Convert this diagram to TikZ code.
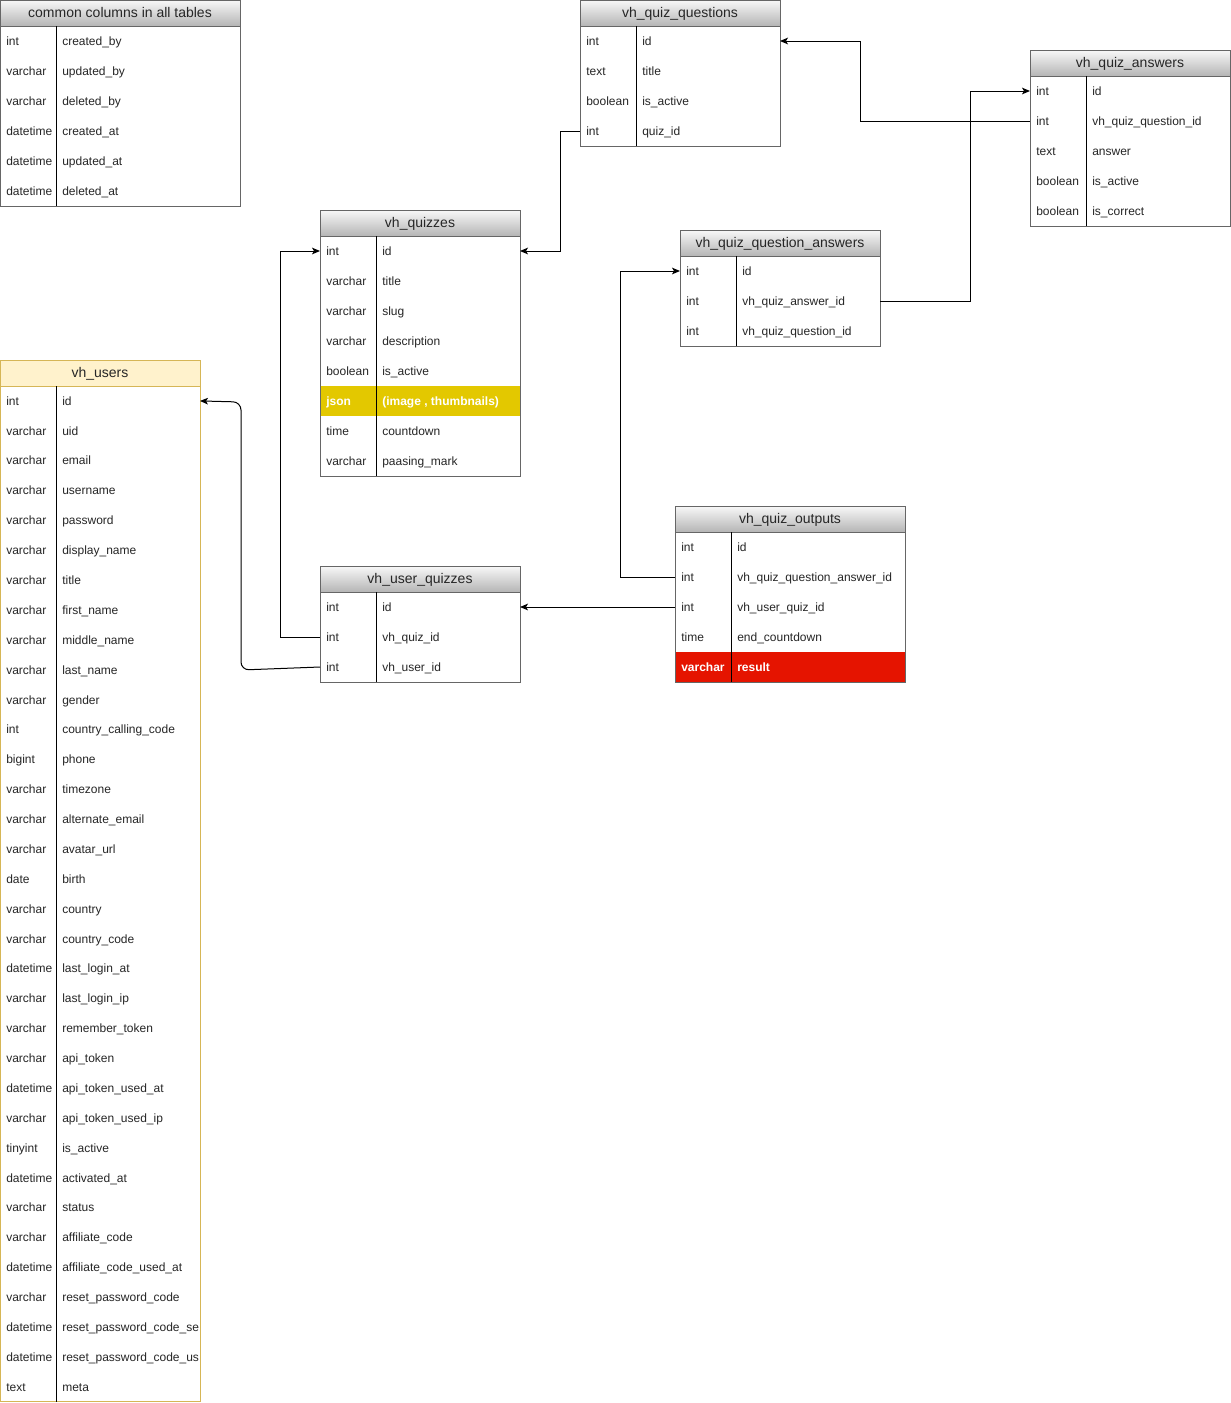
\documentclass[tikz,border=0pt]{standalone}
\usepackage{fontspec}
\setmainfont{Liberation Sans}
\usetikzlibrary{arrows.meta}

% one drawing unit = one screen pixel
\newcommand\pxu{0.75pt}

\definecolor{hdrtop}{HTML}{F8F8F8}
\definecolor{hdrbot}{HTML}{B5B5B5}
\definecolor{edge}{HTML}{666666}
\definecolor{usrfill}{HTML}{FFF2CC}
\definecolor{usredge}{HTML}{D6B656}
\definecolor{jsonfill}{HTML}{E3C800}
\definecolor{resfill}{HTML}{E51400}

\tikzset{
  hdr/.style={draw=edge, line width=\pxu, top color=hdrtop, bottom color=hdrbot,
    font=\fontsize{10.5}{12}\selectfont, text=black!85, inner sep=0pt, outer sep=0pt,
    text height=8.6pt, text depth=1.4pt, anchor=north west},
  rowbox/.style={inner sep=0pt, outer sep=0pt, anchor=north west},
  celltxt/.style={font=\fontsize{9}{11}\selectfont, text=black!85, inner sep=0pt, anchor=base west},
  frame/.style={draw=edge, line width=\pxu},
  divider/.style={draw=black, line width=\pxu},
  rowstyle/.style={hl #1/.try},
  txtstyle/.style={tx #1/.try},
  link/.style={draw=black, line width=\pxu, -{Stealth[length=6pt,width=5pt,inset=1.5pt]}},
  % table specific looks
  hdr vu/.style={top color=usrfill, bottom color=usrfill, draw=usredge},
  tbl vu/.style={draw=usredge},
  hl qz-6/.style={fill=jsonfill},
  tx qz-6/.style={text=white, font=\fontsize{9}{11}\selectfont\bfseries},
  hl qo-5/.style={fill=resfill},
  tx qo-5/.style={text=white, font=\fontsize{9}{11}\selectfont\bfseries},
}

% #1 name, #2 x, #3 y, #4 width, #5 row height, #6 number of rows, #7 title, #8 rows type/field
\newcommand\dbtable[8]{%
  \node[hdr, hdr #1/.try, minimum width={#4*\pxu}, minimum height={26*\pxu}] (#1) at (#2,#3) {#7};
  \foreach \t/\f [count=\i] in {#8} {
    \node[rowbox, minimum width={#4*\pxu}, minimum height={#5*\pxu}, rowstyle/.expanded={#1-\i}]
      (#1-\i) at (#2,{#3+26+(\i-1)*#5}) {};
    \node[celltxt, txtstyle/.expanded={#1-\i}] (#1-\i-type)
      at ([xshift=6*\pxu, yshift=-3.2pt]#1-\i.west) {\t};
    \node[celltxt, txtstyle/.expanded={#1-\i}] (#1-\i-field)
      at ([xshift=62*\pxu, yshift=-3.2pt]#1-\i.west) {\f};
  }
  \draw[frame, tbl #1/.try] (#2,{#3+26}) rectangle ({#2+#4},{#3+26+#6*#5});
  \draw[divider] ({#2+56},{#3+26}) -- ({#2+56},{#3+26+#6*#5});
}

\begin{document}
\begin{tikzpicture}[x=0.75pt, y=-0.75pt]
\useasboundingbox[fill=white] (0,0) rectangle (1231,1403);

\dbtable{cc}{0}{0}{240}{30}{6}{common columns in all tables}{%
  int/created\_by, varchar/updated\_by, varchar/deleted\_by,
  datetime/created\_at, datetime/updated\_at, datetime/deleted\_at}

\dbtable{qq}{580}{0}{200}{30}{4}{vh\_quiz\_questions}{%
  int/id, text/title, boolean/is\_active, int/quiz\_id}

\dbtable{qa}{1030}{50}{200}{30}{5}{vh\_quiz\_answers}{%
  int/id, int/vh\_quiz\_question\_id, text/answer, boolean/is\_active, boolean/is\_correct}

\dbtable{qz}{320}{210}{200}{30}{8}{vh\_quizzes}{%
  int/id, varchar/title, varchar/slug, varchar/description, boolean/is\_active,
  json/{(image , thumbnails)}, time/countdown, varchar/paasing\_mark}

\dbtable{qqa}{680}{230}{200}{30}{3}{vh\_quiz\_question\_answers}{%
  int/id, int/vh\_quiz\_answer\_id, int/vh\_quiz\_question\_id}

\dbtable{vu}{0}{360}{200}{29.88}{34}{vh\_users}{%
  int/id, varchar/uid, varchar/email, varchar/username, varchar/password,
  varchar/display\_name, varchar/title, varchar/first\_name, varchar/middle\_name,
  varchar/last\_name, varchar/gender, int/country\_calling\_code, bigint/phone,
  varchar/timezone, varchar/alternate\_email, varchar/avatar\_url, date/birth,
  varchar/country, varchar/country\_code, datetime/last\_login\_at,
  varchar/last\_login\_ip, varchar/remember\_token, varchar/api\_token,
  datetime/api\_token\_used\_at, varchar/api\_token\_used\_ip, tinyint/is\_active,
  datetime/activated\_at, varchar/status, varchar/affiliate\_code,
  datetime/affiliate\_code\_used\_at, varchar/reset\_password\_code,
  datetime/reset\_password\_code\_se, datetime/reset\_password\_code\_us, text/meta}

\dbtable{uq}{320}{566}{200}{30}{3}{vh\_user\_quizzes}{%
  int/id, int/vh\_quiz\_id, int/vh\_user\_id}

\dbtable{qo}{675}{506}{230}{30}{5}{vh\_quiz\_outputs}{%
  int/id, int/vh\_quiz\_question\_answer\_id, int/vh\_user\_quiz\_id,
  time/end\_countdown, varchar/result}

% foreign keys
\draw[link] (qq-4.west) -- ++(-20,0) |- (qz-1.east);
\draw[link] (qa-2.west) -- ++(-170,0) |- (qq-1.east);
\draw[link] (qqa-2.east) -- ++(90,0) |- (qa-1.west);
\draw[link] (qo-2.west) -- ++(-55,0) |- (qqa-1.west);
\draw[link] (qo-3.west) -- (uq-1.east);
\draw[link] (uq-2.west) -- ++(-40,0) |- (qz-1.west);
\draw[link, rounded corners=6pt] (uq-3.west) -- (241,670) -- (241,402) -- (vu-1.east);
\end{tikzpicture}
\end{document}
